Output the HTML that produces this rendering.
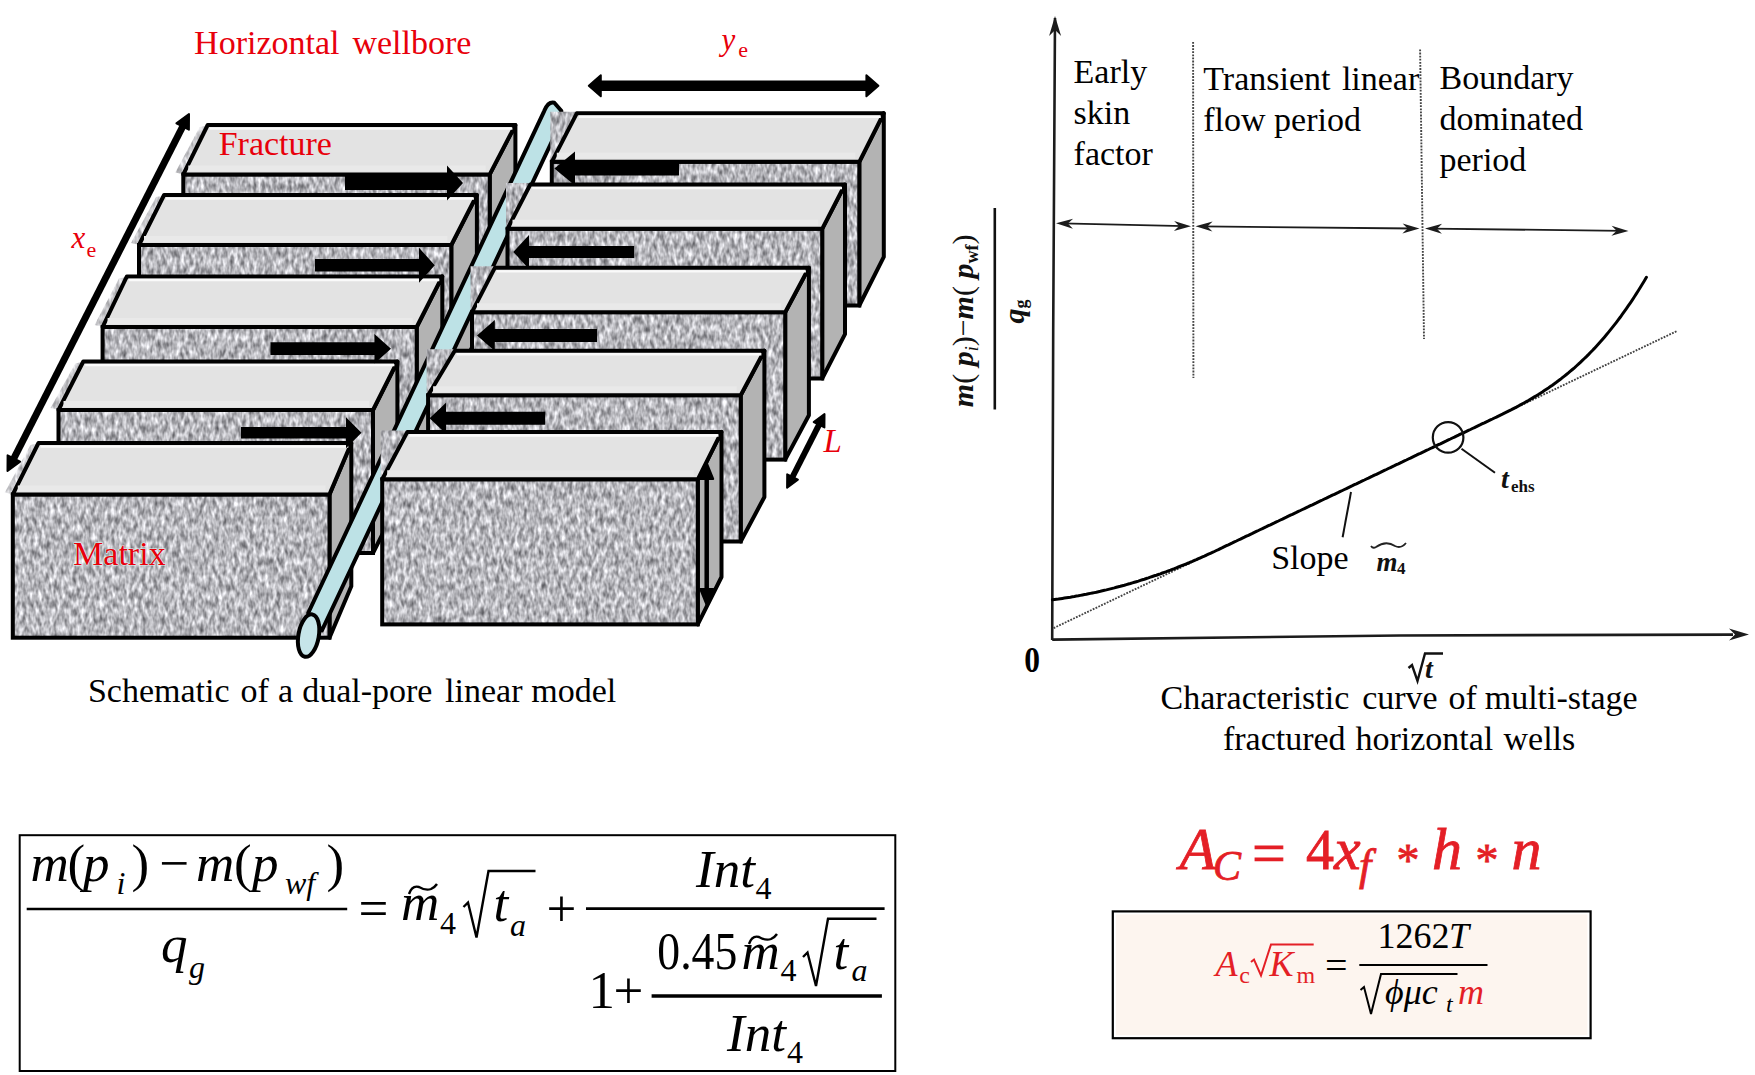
<!DOCTYPE html>
<html><head><meta charset="utf-8">
<style>
html,body{margin:0;padding:0;background:#fff;}
body{width:1755px;height:1075px;overflow:hidden;position:relative;}
svg{position:absolute;left:0;top:0;}
text{font-family:"Liberation Serif",serif;}
</style></head><body>
<svg width="1755" height="1075" viewBox="0 0 1755 1075">
<defs>
<filter id="nz" color-interpolation-filters="sRGB" x="0" y="0" width="1755" height="1075" filterUnits="userSpaceOnUse">
<feTurbulence type="fractalNoise" baseFrequency="0.26 0.12" numOctaves="2" seed="7"/>
<feColorMatrix type="matrix" values="0.9 0 0 0 0.27  0.9 0 0 0 0.27  0.9 0 0 0 0.29  0 0 0 0 1"/>
</filter>
<pattern id="tex" patternUnits="userSpaceOnUse" x="0" y="0" width="1755" height="1075">
<rect width="1755" height="1075" filter="url(#nz)"/>
</pattern>
</defs>
<rect width="1755" height="1075" fill="#fff"/>
<polygon points="199.7,127.0 208.7,125.0 184.3,174.4 175.3,172.4" fill="url(#tex)" opacity="0.7"/>
<polygon points="156.1,197.0 165.1,195.0 140.0,245.0 131.0,243.0" fill="url(#tex)" opacity="0.7"/>
<polygon points="118.9,278.4 127.9,276.4 103.6,327.0 94.6,325.0" fill="url(#tex)" opacity="0.7"/>
<polygon points="75.3,363.5 84.3,361.5 59.5,410.0 50.5,408.0" fill="url(#tex)" opacity="0.7"/>
<polygon points="30.5,445.0 39.5,443.0 13.8,494.4 4.8,492.4" fill="url(#tex)" opacity="0.7"/>
<polygon points="489.7,174.4 515.4,125.0 515.4,268.1 489.7,317.5" fill="#b3b3b3" stroke="#000" stroke-width="4.0" stroke-linejoin="round"/>
<rect x="183.3" y="174.4" width="306.4" height="143.1" fill="url(#tex)" stroke="#000" stroke-width="4.0"/>
<polygon points="207.7,125.0 515.4,125.0 489.7,174.4 183.3,174.4" fill="#e3e3e3" stroke="#000" stroke-width="4.0" stroke-linejoin="round"/>
<line x1="209.7" y1="128.6" x2="512.4" y2="128.6" stroke="#fafafa" stroke-width="2.4"/>
<line x1="188.3" y1="168.4" x2="485.7" y2="168.4" stroke="#e9e9e9" stroke-width="6"/>
<polygon points="451.3,245.0 476.9,195.0 476.9,338.0 451.3,388.0" fill="#b3b3b3" stroke="#000" stroke-width="4.0" stroke-linejoin="round"/>
<rect x="139.0" y="245.0" width="312.3" height="143.0" fill="url(#tex)" stroke="#000" stroke-width="4.0"/>
<polygon points="164.1,195.0 476.9,195.0 451.3,245.0 139.0,245.0" fill="#e3e3e3" stroke="#000" stroke-width="4.0" stroke-linejoin="round"/>
<line x1="166.1" y1="198.6" x2="473.9" y2="198.6" stroke="#fafafa" stroke-width="2.4"/>
<line x1="144.0" y1="239.0" x2="447.3" y2="239.0" stroke="#e9e9e9" stroke-width="6"/>
<polygon points="416.7,327.0 442.3,276.4 442.3,419.4 416.7,470.0" fill="#b3b3b3" stroke="#000" stroke-width="4.0" stroke-linejoin="round"/>
<rect x="102.6" y="327.0" width="314.1" height="143.0" fill="url(#tex)" stroke="#000" stroke-width="4.0"/>
<polygon points="126.9,276.4 442.3,276.4 416.7,327.0 102.6,327.0" fill="#e3e3e3" stroke="#000" stroke-width="4.0" stroke-linejoin="round"/>
<line x1="128.9" y1="280.0" x2="439.3" y2="280.0" stroke="#fafafa" stroke-width="2.4"/>
<line x1="107.6" y1="321.0" x2="412.7" y2="321.0" stroke="#e9e9e9" stroke-width="6"/>
<polygon points="373.0,410.0 397.4,361.5 397.4,504.5 373.0,553.0" fill="#b3b3b3" stroke="#000" stroke-width="4.0" stroke-linejoin="round"/>
<rect x="58.5" y="410.0" width="314.5" height="143.0" fill="url(#tex)" stroke="#000" stroke-width="4.0"/>
<polygon points="83.3,361.5 397.4,361.5 373.0,410.0 58.5,410.0" fill="#e3e3e3" stroke="#000" stroke-width="4.0" stroke-linejoin="round"/>
<line x1="85.3" y1="365.1" x2="394.4" y2="365.1" stroke="#fafafa" stroke-width="2.4"/>
<line x1="63.5" y1="404.0" x2="369.0" y2="404.0" stroke="#e9e9e9" stroke-width="6"/>
<polygon points="329.5,494.4 351.3,443.0 351.3,586.3 329.5,637.7" fill="#b3b3b3" stroke="#000" stroke-width="4.0" stroke-linejoin="round"/>
<rect x="12.8" y="494.4" width="316.7" height="143.3" fill="url(#tex)" stroke="#000" stroke-width="4.0"/>
<polygon points="38.5,443.0 351.3,443.0 329.5,494.4 12.8,494.4" fill="#e3e3e3" stroke="#000" stroke-width="4.0" stroke-linejoin="round"/>
<line x1="40.5" y1="446.6" x2="348.3" y2="446.6" stroke="#fafafa" stroke-width="2.4"/>
<line x1="17.8" y1="488.4" x2="325.5" y2="488.4" stroke="#e9e9e9" stroke-width="6"/>
<path d="M308.2,613.0 L544.3,110.8 Q548.3,101.3 554.3,102.8 L561.3,110.8 L561.5,121 L321.9,630.5 Z" fill="#bde2e6" stroke="#000" stroke-width="4.0" stroke-linejoin="round"/>
<ellipse cx="308.6" cy="635.6" rx="10.2" ry="21.5" transform="rotate(10 308.6 635.6)" fill="#c6e5e9" stroke="#000" stroke-width="4.0"/>
<polygon points="550.3,111.7 577.9,111.7 551.8,161.8 550.3,161.8" fill="url(#tex)" opacity="1"/>
<polygon points="506.0,183.0 531.3,183.0 507.5,228.8 506.0,228.8" fill="url(#tex)" opacity="1"/>
<polygon points="470.5,266.3 495.8,266.3 472.0,312.2 470.5,312.2" fill="url(#tex)" opacity="1"/>
<polygon points="426.6,349.2 455.8,349.2 428.1,395.2 426.6,395.2" fill="url(#tex)" opacity="1"/>
<polygon points="380.7,430.4 408.4,430.4 382.2,479.3 380.7,479.3" fill="url(#tex)" opacity="1"/>
<polygon points="859.3,161.8 883.8,113.2 883.8,256.9 859.3,305.5" fill="#b3b3b3" stroke="#000" stroke-width="4.0" stroke-linejoin="round"/>
<rect x="551.8" y="161.8" width="307.5" height="143.7" fill="url(#tex)" stroke="#000" stroke-width="4.0"/>
<polygon points="576.9,113.2 883.8,113.2 859.3,161.8 551.8,161.8" fill="#e3e3e3" stroke="#000" stroke-width="4.0" stroke-linejoin="round"/>
<line x1="578.9" y1="116.8" x2="880.8" y2="116.8" stroke="#fafafa" stroke-width="2.4"/>
<line x1="556.8" y1="155.8" x2="855.3" y2="155.8" stroke="#e9e9e9" stroke-width="6"/>
<polygon points="822.2,228.8 845.0,184.5 845.0,334.2 822.2,378.5" fill="#b3b3b3" stroke="#000" stroke-width="4.0" stroke-linejoin="round"/>
<rect x="507.5" y="228.8" width="314.7" height="149.7" fill="url(#tex)" stroke="#000" stroke-width="4.0"/>
<polygon points="530.3,184.5 845.0,184.5 822.2,228.8 507.5,228.8" fill="#e3e3e3" stroke="#000" stroke-width="4.0" stroke-linejoin="round"/>
<line x1="532.3" y1="188.1" x2="842.0" y2="188.1" stroke="#fafafa" stroke-width="2.4"/>
<line x1="512.5" y1="222.8" x2="818.2" y2="222.8" stroke="#e9e9e9" stroke-width="6"/>
<polygon points="785.2,312.2 808.9,267.8 808.9,415.2 785.2,459.6" fill="#b3b3b3" stroke="#000" stroke-width="4.0" stroke-linejoin="round"/>
<rect x="472.0" y="312.2" width="313.2" height="147.4" fill="url(#tex)" stroke="#000" stroke-width="4.0"/>
<polygon points="494.8,267.8 808.9,267.8 785.2,312.2 472.0,312.2" fill="#e3e3e3" stroke="#000" stroke-width="4.0" stroke-linejoin="round"/>
<line x1="496.8" y1="271.4" x2="805.9" y2="271.4" stroke="#fafafa" stroke-width="2.4"/>
<line x1="477.0" y1="306.2" x2="781.2" y2="306.2" stroke="#e9e9e9" stroke-width="6"/>
<polygon points="740.7,395.2 764.4,350.7 764.4,497.0 740.7,541.5" fill="#b3b3b3" stroke="#000" stroke-width="4.0" stroke-linejoin="round"/>
<rect x="428.1" y="395.2" width="312.6" height="146.3" fill="url(#tex)" stroke="#000" stroke-width="4.0"/>
<polygon points="454.8,350.7 764.4,350.7 740.7,395.2 428.1,395.2" fill="#e3e3e3" stroke="#000" stroke-width="4.0" stroke-linejoin="round"/>
<line x1="456.8" y1="354.3" x2="761.4" y2="354.3" stroke="#fafafa" stroke-width="2.4"/>
<line x1="433.1" y1="389.2" x2="736.7" y2="389.2" stroke="#e9e9e9" stroke-width="6"/>
<polygon points="697.8,479.3 721.5,431.9 721.5,577.0 697.8,624.4" fill="#b3b3b3" stroke="#000" stroke-width="4.0" stroke-linejoin="round"/>
<rect x="382.2" y="479.3" width="315.6" height="145.1" fill="url(#tex)" stroke="#000" stroke-width="4.0"/>
<polygon points="407.4,431.9 721.5,431.9 697.8,479.3 382.2,479.3" fill="#e3e3e3" stroke="#000" stroke-width="4.0" stroke-linejoin="round"/>
<line x1="409.4" y1="435.5" x2="718.5" y2="435.5" stroke="#fafafa" stroke-width="2.4"/>
<line x1="387.2" y1="473.3" x2="693.8" y2="473.3" stroke="#e9e9e9" stroke-width="6"/>
<polygon points="345.0,176.0 447.0,176.0 447.0,165.5 463.0,183.0 447.0,200.5 447.0,190.0 345.0,190.0" fill="#000"/>
<polygon points="315.0,259.0 419.0,259.0 419.0,247.8 434.8,265.3 419.0,282.8 419.0,271.6 315.0,271.6" fill="#000"/>
<polygon points="270.5,342.3 374.4,342.3 374.4,334.0 391.0,348.7 374.4,363.4 374.4,355.1 270.5,355.1" fill="#000"/>
<polygon points="241.0,427.1 346.0,427.1 346.0,417.3 361.5,432.8 346.0,448.3 346.0,438.6 241.0,438.6" fill="#000"/>
<polygon points="679.0,161.5 575.0,161.5 575.0,151.5 554.4,168.5 575.0,185.5 575.0,175.5 679.0,175.5" fill="#000"/>
<polygon points="634.2,245.9 529.0,245.9 529.0,234.9 513.3,251.9 529.0,268.9 529.0,257.9 634.2,257.9" fill="#000"/>
<polygon points="597.0,329.0 494.8,329.0 494.8,320.0 477.0,335.5 494.8,351.0 494.8,342.0 597.0,342.0" fill="#000"/>
<polygon points="545.2,411.8 446.0,411.8 446.0,402.8 429.6,418.3 446.0,433.8 446.0,424.8 545.2,424.8" fill="#000"/>
<text x="194.1" y="53.8" font-size="34" fill="#e8000b" >Horizontal</text>
<text x="352.4" y="53.8" font-size="34" fill="#e8000b" >wellbore</text>
<text x="218.7" y="155.1" font-size="34" fill="#e8000b" >Fracture</text>
<text x="73.1" y="564.9" font-size="34" fill="#e8000b" stroke="#d8f4f4" stroke-width="1.2" paint-order="stroke">Matrix</text>
<text x="71.5" y="248.4" font-size="31" fill="#e8000b" font-style="italic">x</text>
<text x="86.6" y="257" font-size="22" fill="#e8000b" >e</text>
<text x="721.5" y="49.5" font-size="31" fill="#e8000b" font-style="italic">y</text>
<text x="738.3" y="56.7" font-size="22" fill="#e8000b" >e</text>
<text x="823.5" y="451.9" font-size="33" fill="#e8000b" font-style="italic">L</text>
<text x="87.9" y="702.2" font-size="34" fill="#000" >Schematic</text>
<text x="240.5" y="702.2" font-size="34" fill="#000" >of</text>
<text x="277.9" y="702.2" font-size="34" fill="#000" >a</text>
<text x="302.2" y="702.2" font-size="34" fill="#000" >dual-pore</text>
<text x="445.1" y="702.2" font-size="34" fill="#000" >linear</text>
<text x="531.2" y="702.2" font-size="34" fill="#000" >model</text>
<line x1="13.8" y1="458.5" x2="182.7" y2="126.5" stroke="#000" stroke-width="7"/><polygon points="7.5,471.0 20.1,461.7 7.6,455.3" fill="#000" stroke="#000" stroke-width="2" stroke-linejoin="round"/><polygon points="189.0,114.0 188.9,129.7 176.4,123.3" fill="#000" stroke="#000" stroke-width="2" stroke-linejoin="round"/>
<line x1="600.8" y1="85.8" x2="866.4" y2="85.8" stroke="#000" stroke-width="10.5"/><polygon points="588.8,85.8 600.8,96.3 600.8,75.3" fill="#000" stroke="#000" stroke-width="2" stroke-linejoin="round"/><polygon points="878.4,85.8 866.4,96.3 866.4,75.3" fill="#000" stroke="#000" stroke-width="2" stroke-linejoin="round"/>
<line x1="792.5" y1="477.0" x2="819.1" y2="424.7" stroke="#000" stroke-width="6"/><polygon points="787.1,487.7 797.9,479.7 787.2,474.3" fill="#000" stroke="#000" stroke-width="2" stroke-linejoin="round"/><polygon points="824.5,414.0 824.4,427.4 813.7,422.0" fill="#000" stroke="#000" stroke-width="2" stroke-linejoin="round"/>
<line x1="706.7" y1="589.0" x2="706.7" y2="479.0" stroke="#000" stroke-width="4.5"/><polygon points="706.7,605.0 713.2,589.0 700.2,589.0" fill="#000" stroke="#000" stroke-width="2" stroke-linejoin="round"/><polygon points="706.7,463.0 713.2,479.0 700.2,479.0" fill="#000" stroke="#000" stroke-width="2" stroke-linejoin="round"/>
<path d="M1052.2,640 L1053.2,330 L1055,18" fill="none" stroke="#1c1c1c" stroke-width="2.6"/>
<polygon points="1055.0,16.0 1061.1,36.0 1055.1,30.0 1049.1,36.0" fill="#1c1c1c"/>
<path d="M1052.2,639.6 L1400,635.5 L1733,634.6" fill="none" stroke="#1c1c1c" stroke-width="2.6"/>
<polygon points="1749.0,634.4 1729.0,640.4 1735.0,634.4 1729.0,628.4" fill="#1c1c1c"/>
<line x1="1062.0" y1="223.4" x2="1185.0" y2="226.2" stroke="#1c1c1c" stroke-width="1.8"/><polygon points="1191.0,226.3 1173.9,230.9 1179.1,226.0 1174.1,220.9" fill="#1c1c1c"/><polygon points="1056.0,223.3 1073.1,218.7 1067.9,223.6 1072.9,228.7" fill="#1c1c1c"/>
<line x1="1201.5" y1="226.4" x2="1413.5" y2="228.5" stroke="#1c1c1c" stroke-width="1.8"/><polygon points="1419.5,228.6 1402.4,233.4 1407.6,228.5 1402.6,223.4" fill="#1c1c1c"/><polygon points="1195.5,226.3 1212.6,221.5 1207.4,226.4 1212.4,231.5" fill="#1c1c1c"/>
<line x1="1431.0" y1="228.7" x2="1622.5" y2="230.8" stroke="#1c1c1c" stroke-width="1.8"/><polygon points="1628.5,230.9 1611.4,235.7 1616.6,230.8 1611.6,225.7" fill="#1c1c1c"/><polygon points="1425.0,228.6 1442.1,223.8 1436.9,228.7 1441.9,233.8" fill="#1c1c1c"/>
<line x1="1193.1" y1="42" x2="1193.4" y2="378" stroke="#444" stroke-width="1.9" stroke-dasharray="1.8 1.3"/>
<line x1="1420.1" y1="49.5" x2="1424" y2="339" stroke="#444" stroke-width="1.9" stroke-dasharray="1.8 1.3"/>
<line x1="1053.6" y1="628.1" x2="1677.2" y2="330.9" stroke="#444" stroke-width="1.9" stroke-dasharray="1.8 1.3"/>
<polyline points="1052.4,599.8 1054.4,599.5 1056.4,599.2 1058.4,599.0 1060.4,598.7 1062.4,598.4 1064.4,598.1 1066.4,597.8 1068.4,597.5 1070.4,597.2 1072.4,596.8 1074.4,596.5 1076.4,596.1 1078.4,595.8 1080.4,595.4 1082.4,595.0 1084.4,594.6 1086.4,594.3 1088.4,593.8 1090.4,593.4 1092.4,593.0 1094.4,592.6 1096.4,592.2 1098.4,591.7 1100.4,591.3 1102.4,590.8 1104.4,590.3 1106.4,589.9 1108.4,589.4 1110.4,588.9 1112.4,588.4 1114.4,587.9 1116.4,587.3 1118.4,586.8 1120.4,586.3 1122.4,585.7 1124.4,585.2 1126.4,584.6 1128.4,584.0 1130.4,583.5 1132.4,582.9 1134.4,582.3 1136.4,581.7 1138.4,581.1 1140.4,580.4 1142.4,579.8 1144.4,579.2 1146.4,578.5 1148.4,577.9 1150.4,577.2 1152.4,576.5 1154.4,575.8 1156.4,575.2 1158.4,574.5 1160.4,573.8 1162.4,573.0 1164.4,572.3 1166.4,571.6 1168.4,570.8 1170.4,570.1 1172.4,569.3 1174.4,568.6 1176.4,567.8 1178.4,567.0 1180.4,566.2 1182.4,565.4 1184.4,564.6 1186.4,563.8 1188.4,563.0 1190.4,562.1 1192.4,561.3 1194.4,560.4 1196.4,559.6 1198.4,558.7 1200.4,557.8 1202.4,556.9 1204.4,556.1 1206.4,555.1 1208.4,554.2 1210.4,553.3 1212.4,552.4 1214.4,551.5 1216.4,550.5 1218.4,549.6 1220.4,548.6 1222.4,547.7 1224.4,546.7 1226.4,545.7 1228.4,544.8 1230.4,543.8 1232.4,542.9 1234.4,541.9 1236.4,541.0 1238.4,540.0 1240.4,539.1 1242.4,538.1 1244.4,537.2 1246.4,536.2 1248.4,535.3 1250.4,534.3 1252.4,533.4 1254.4,532.4 1256.4,531.4 1258.4,530.5 1260.4,529.5 1262.4,528.6 1264.4,527.6 1266.4,526.7 1268.4,525.7 1270.4,524.8 1272.4,523.8 1274.4,522.9 1276.4,521.9 1278.4,521.0 1280.4,520.0 1282.4,519.1 1284.4,518.1 1286.4,517.2 1288.4,516.2 1290.4,515.2 1292.4,514.3 1294.4,513.3 1296.4,512.4 1298.4,511.4 1300.4,510.5 1302.4,509.5 1304.4,508.6 1306.4,507.6 1308.4,506.7 1310.4,505.7 1312.4,504.8 1314.4,503.8 1316.4,502.9 1318.4,501.9 1320.4,500.9 1322.4,500.0 1324.4,499.0 1326.4,498.1 1328.4,497.1 1330.4,496.2 1332.4,495.2 1334.4,494.3 1336.4,493.3 1338.4,492.4 1340.4,491.4 1342.4,490.5 1344.4,489.5 1346.4,488.6 1348.4,487.6 1350.4,486.6 1352.4,485.7 1354.4,484.7 1356.4,483.8 1358.4,482.8 1360.4,481.9 1362.4,480.9 1364.4,480.0 1366.4,479.0 1368.4,478.1 1370.4,477.1 1372.4,476.2 1374.4,475.2 1376.4,474.3 1378.4,473.3 1380.4,472.4 1382.4,471.4 1384.4,470.4 1386.4,469.5 1388.4,468.5 1390.4,467.6 1392.4,466.6 1394.4,465.7 1396.4,464.7 1398.4,463.8 1400.4,462.8 1402.4,461.9 1404.4,460.9 1406.4,460.0 1408.4,459.0 1410.4,458.1 1412.4,457.1 1414.4,456.1 1416.4,455.2 1418.4,454.2 1420.4,453.3 1422.4,452.3 1424.4,451.4 1426.4,450.4 1428.4,449.5 1430.4,448.5 1432.4,447.6 1434.4,446.6 1436.4,445.7 1438.4,444.7 1440.4,443.8 1442.4,442.8 1444.4,441.8 1446.4,440.9 1448.4,439.9 1450.4,439.0 1452.4,438.0 1454.4,437.1 1456.4,436.1 1458.4,435.2 1460.4,434.2 1462.4,433.3 1464.4,432.3 1466.4,431.4 1468.4,430.4 1470.4,429.5 1472.4,428.5 1474.4,427.6 1476.4,426.6 1478.4,425.6 1480.4,424.7 1482.4,423.7 1484.4,422.8 1486.4,421.8 1488.4,420.9 1490.4,419.9 1492.4,419.0 1494.4,418.0 1496.4,417.1 1498.4,416.1 1500.4,415.1 1502.4,414.2 1504.4,413.2 1506.4,412.2 1508.4,411.2 1510.4,410.2 1512.4,409.1 1514.4,408.1 1516.4,407.1 1518.4,406.0 1520.4,404.9 1522.4,403.8 1524.4,402.7 1526.4,401.6 1528.4,400.5 1530.4,399.3 1532.4,398.1 1534.4,396.9 1536.4,395.7 1538.4,394.5 1540.4,393.2 1542.4,392.0 1544.4,390.6 1546.4,389.3 1548.4,388.0 1550.4,386.6 1552.4,385.2 1554.4,383.7 1556.4,382.3 1558.4,380.8 1560.4,379.3 1562.4,377.7 1564.4,376.1 1566.4,374.5 1568.4,372.9 1570.4,371.2 1572.4,369.5 1574.4,367.8 1576.4,366.0 1578.4,364.2 1580.4,362.3 1582.4,360.4 1584.4,358.5 1586.4,356.6 1588.4,354.6 1590.4,352.5 1592.4,350.5 1594.4,348.4 1596.4,346.2 1598.4,344.0 1600.4,341.8 1602.4,339.5 1604.4,337.2 1606.4,334.8 1608.4,332.4 1610.4,329.9 1612.4,327.4 1614.4,324.9 1616.4,322.3 1618.4,319.6 1620.4,317.0 1622.4,314.2 1624.4,311.4 1626.4,308.6 1628.4,305.7 1630.4,302.8 1632.4,299.8 1634.4,296.7 1636.4,293.6 1638.4,290.5 1640.4,287.3 1642.4,284.0 1644.4,280.7 1646.4,277.3 1646.4,277.3" fill="none" stroke="#000" stroke-width="3" stroke-linecap="round"/>
<circle cx="1448.1" cy="437.4" r="15.3" fill="none" stroke="#111" stroke-width="2.2"/>
<line x1="1461.5" y1="448.8" x2="1495" y2="472.8" stroke="#111" stroke-width="2"/>
<line x1="1351" y1="492" x2="1342.6" y2="537.3" stroke="#111" stroke-width="2"/>
<text x="1073.6" y="82.8" font-size="34" fill="#000" >Early</text>
<text x="1073.6" y="123.8" font-size="34" fill="#000" >skin</text>
<text x="1073.6" y="164.7" font-size="34" fill="#000" >factor</text>
<text x="1203.3" y="89.9" font-size="34" fill="#000" >Transient</text>
<text x="1341.9" y="89.9" font-size="34" fill="#000" >linear</text>
<text x="1203.3" y="131.4" font-size="34" fill="#000" >flow period</text>
<text x="1439.5" y="89.3" font-size="34" fill="#000" >Boundary</text>
<text x="1439.5" y="130.3" font-size="34" fill="#000" >dominated</text>
<text x="1439.5" y="171.2" font-size="34" fill="#000" >period</text>
<text x="1271.2" y="568.9" font-size="34" fill="#000" >Slope</text>
<g transform="translate(1024.3,671.6) scale(0.9,1)"><text x="0" y="0" font-size="35" fill="#000" font-weight="bold">0</text></g>
<text x="1376.5" y="570.8" font-size="27" fill="#111" font-weight="bold" font-style="italic">m</text>
<text x="1397" y="573.8" font-size="17" fill="#111" font-weight="bold">4</text>
<path d="M1371,546 Q1373,549 1376,547 Q1386,540 1395,546 Q1401,549 1406,543" fill="none" stroke="#222" stroke-width="1.8"/>
<text x="1501" y="487.8" font-size="28" fill="#111" font-weight="bold" font-style="italic">t</text>
<text x="1510.9" y="492" font-size="17" fill="#111" font-weight="bold">ehs</text>
<path d="M1408.5,668 L1412,665 L1417.5,681 L1425,653.5 L1443,653.5" fill="none" stroke="#111" stroke-width="2.4" stroke-linejoin="miter"/>
<text x="1425" y="678" font-size="28" fill="#111" font-weight="bold" font-style="italic">t</text>
<g transform="translate(973.4,407.2) rotate(-90)"><text x="0" y="0" font-size="30" font-weight="bold" font-style="italic" fill="#111"><tspan>m</tspan><tspan font-style="normal" font-weight="normal">( </tspan><tspan>p</tspan><tspan font-size="18" dy="5" font-weight="normal">i</tspan><tspan dy="-5" font-style="normal" font-weight="normal">)−</tspan><tspan>m</tspan><tspan font-style="normal" font-weight="normal">( </tspan><tspan>p</tspan><tspan font-size="18" dy="5" font-style="normal">wf</tspan><tspan dy="-5" font-style="normal" font-weight="normal">)</tspan></text></g>
<line x1="994.8" y1="208" x2="994.8" y2="409.5" stroke="#111" stroke-width="2.6"/>
<g transform="translate(1024,323.5) rotate(-90)"><text x="0" y="0" font-size="30" font-weight="bold" font-style="italic" fill="#111">q<tspan font-size="18" dy="3" font-style="normal">g</tspan></text></g>
<text x="1160.5" y="709.3" font-size="34" fill="#000" >Characteristic</text>
<text x="1362.2" y="709.3" font-size="34" fill="#000" >curve</text>
<text x="1448.4" y="709.3" font-size="34" fill="#000" >of</text>
<text x="1484.7" y="709.3" font-size="34" fill="#000" >multi-stage</text>
<text x="1222.9" y="750.3" font-size="34" fill="#000" >fractured</text>
<text x="1355.4" y="750.3" font-size="34" fill="#000" >horizontal</text>
<text x="1503.5" y="750.3" font-size="34" fill="#000" >wells</text>
<rect x="19.7" y="835.2" width="875.6" height="235.8" fill="none" stroke="#000" stroke-width="2"/>
<text x="30.5" y="881.3" font-size="53" fill="#000" font-style="italic">m</text>
<text x="67.5" y="881.3" font-size="53" fill="#000" >(</text>
<text x="83" y="881.3" font-size="53" fill="#000" font-style="italic">p</text>
<text x="116.5" y="894" font-size="32" fill="#000" font-style="italic">i</text>
<text x="131.5" y="881.3" font-size="53" fill="#000" >)</text>
<text x="159.5" y="881.3" font-size="53" fill="#000" >−</text>
<text x="196" y="881.3" font-size="53" fill="#000" font-style="italic">m</text>
<text x="234" y="881.3" font-size="53" fill="#000" >(</text>
<text x="252" y="881.3" font-size="53" fill="#000" font-style="italic">p</text>
<text x="285" y="894" font-size="32" fill="#000" font-style="italic">wf</text>
<text x="326.5" y="881.3" font-size="53" fill="#000" >)</text>
<line x1="26.7" y1="909" x2="347.2" y2="909" stroke="#000" stroke-width="2.6"/>
<text x="161" y="962" font-size="53" fill="#000" font-style="italic">q</text>
<text x="189" y="977.5" font-size="32" fill="#000" font-style="italic">g</text>
<text x="358.5" y="925.5" font-size="53" fill="#000" >=</text>
<text x="401" y="919.7" font-size="53" fill="#000" font-style="italic">m</text>
<text x="440" y="933.8" font-size="32" fill="#000" >4</text>
<path d="M409,894 Q412,885 419,887 Q426,891 431,889 Q435,887 437,884" fill="none" stroke="#000" stroke-width="2.4"/>
<path d="M463.5,907 L468,902.5 L476.5,937.5 L488.5,871 L535.5,871" fill="none" stroke="#000" stroke-width="2.4" stroke-linejoin="miter"/>
<text x="493.5" y="921" font-size="53" fill="#000" font-style="italic">t</text>
<text x="510" y="935.8" font-size="32" fill="#000" font-style="italic">a</text>
<text x="546.5" y="925.5" font-size="53" fill="#000" >+</text>
<line x1="586" y1="908.6" x2="884.6" y2="908.6" stroke="#000" stroke-width="2.6"/>
<text x="696" y="886.8" font-size="53" fill="#000" font-style="italic">Int</text>
<text x="755.5" y="899" font-size="32" fill="#000" >4</text>
<text x="588.5" y="1008" font-size="53" fill="#000" >1</text>
<text x="613.5" y="1008" font-size="53" fill="#000" >+</text>
<line x1="651.6" y1="996" x2="881.9" y2="996" stroke="#000" stroke-width="3.4"/>
<text x="657.3" y="969.3" font-size="53" fill="#000" textLength="80" lengthAdjust="spacingAndGlyphs">0.45</text>
<text x="741.5" y="969.3" font-size="53" fill="#000" font-style="italic">m</text>
<text x="780.5" y="981.3" font-size="32" fill="#000" >4</text>
<path d="M749,944 Q752,935 759,937 Q766,941 771,939 Q775,937 777,934" fill="none" stroke="#000" stroke-width="2.4"/>
<path d="M803,957 L807.5,952.5 L816,986 L828,918.8 L876.5,918.8" fill="none" stroke="#000" stroke-width="2.4" stroke-linejoin="miter"/>
<text x="833.5" y="969.3" font-size="53" fill="#000" font-style="italic">t</text>
<text x="851.5" y="981.3" font-size="32" fill="#000" font-style="italic">a</text>
<text x="727" y="1051" font-size="53" fill="#000" font-style="italic">Int</text>
<text x="787" y="1063" font-size="32" fill="#000" >4</text>
<g stroke="#e41f26" stroke-width="0.8">
<text x="1179.5" y="869.3" font-size="60" fill="#e41f26" font-style="italic">A</text>
<text x="1213" y="879.5" font-size="42" fill="#e41f26" font-style="italic">C</text>
<text x="1252" y="872.5" font-size="60" fill="#e41f26" >=</text>
<text x="1306" y="869.3" font-size="56" fill="#e41f26" >4</text>
<text x="1334" y="869.3" font-size="60" fill="#e41f26" font-style="italic">x</text>
<text x="1359" y="879.5" font-size="44" fill="#e41f26" font-style="italic">f</text>
<text x="1396.5" y="875.5" font-size="46" fill="#e41f26" >*</text>
<text x="1432" y="869.3" font-size="60" fill="#e41f26" font-style="italic">h</text>
<text x="1475.5" y="875.5" font-size="46" fill="#e41f26" >*</text>
<text x="1511.5" y="869.3" font-size="60" fill="#e41f26" font-style="italic">n</text>
</g>
<rect x="1112.8" y="911.4" width="477.8" height="126.8" fill="#fff" stroke="#000" stroke-width="2.2"/>
<rect x="1116" y="914.4" width="471.4" height="120.8" fill="#fdf5ef"/>
<text x="1215.5" y="975.5" font-size="36" fill="#e41f26" font-style="italic">A</text>
<text x="1239.3" y="982.6" font-size="24" fill="#e41f26" >c</text>
<path d="M1251,962 L1254,959.5 L1261,975.5 L1271,944.5 L1313.7,944.5" fill="none" stroke="#e41f26" stroke-width="2" stroke-linejoin="miter"/>
<text x="1269.5" y="975.5" font-size="36" fill="#e41f26" font-style="italic">K</text>
<text x="1296.5" y="982.6" font-size="24" fill="#e41f26" >m</text>
<text x="1325" y="979" font-size="40" fill="#000" >=</text>
<line x1="1359.3" y1="965" x2="1487.5" y2="965" stroke="#000" stroke-width="2"/>
<text x="1377.5" y="948.4" font-size="36" fill="#000" >1262</text>
<text x="1449" y="948.4" font-size="36" fill="#000" font-style="italic">T</text>
<path d="M1360.5,990 L1364,987 L1371,1014 L1381,974 L1457.5,974" fill="none" stroke="#000" stroke-width="2" stroke-linejoin="miter"/>
<text x="1385" y="1004" font-size="36" fill="#000" font-style="italic">ϕμc</text>
<text x="1446" y="1012" font-size="24" fill="#000" font-style="italic">t</text>
<text x="1458" y="1004" font-size="36" fill="#e41f26" font-style="italic">m</text>
</svg>
</body></html>
